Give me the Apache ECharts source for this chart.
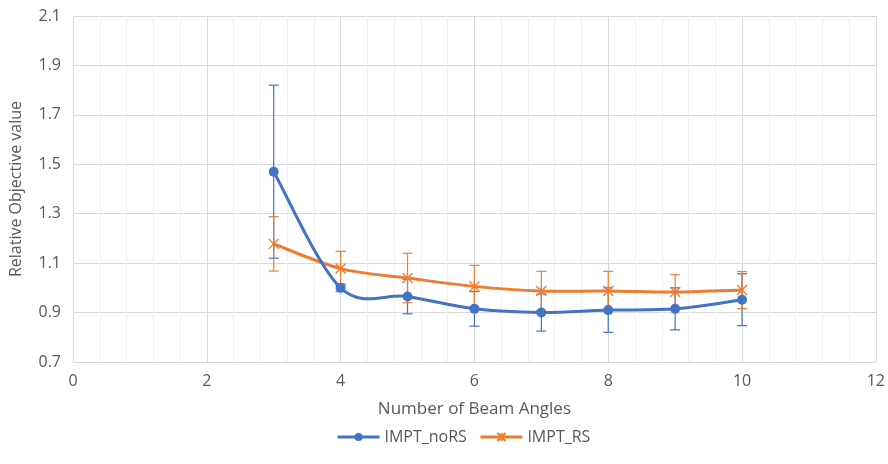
<!DOCTYPE html>
<html>
<head>
<meta charset="utf-8">
<script src="https://cdn.jsdelivr.net/npm/echarts@6/dist/echarts.min.js"></script>
<style>html,body{margin:0;padding:0;background:#fff}#c{width:888px;height:464px}</style>
</head>
<body>
<div id="c"></div>
<script>
const beamAngles = [3, 4, 5, 6, 7, 8, 9, 10];
const noRS = [1.47, 1.00, 0.965, 0.915, 0.90, 0.91, 0.915, 0.952];
const noRSErr = [0.35, 0.015, 0.07, 0.07, 0.075, 0.09, 0.085, 0.105];
const RS = [1.178, 1.078, 1.04, 1.006, 0.987, 0.987, 0.983, 0.991];
const RSErr = [0.11, 0.07, 0.1, 0.085, 0.08, 0.08, 0.07, 0.075];
const yTicks = [0.7, 0.9, 1.1, 1.3, 1.5, 1.7, 1.9, 2.1];

const BLUE = '#4472C4', ORANGE = '#ED7D31';
const FONT = '"Open Sans", sans-serif';

function errSeries(vals, errs, color) {
  return {
    type: 'custom',
    data: beamAngles.map((x, i) => [x, vals[i] - errs[i], vals[i] + errs[i]]),
    encode: { x: 0, y: [1, 2] },
    silent: true,
    z: 1,
    renderItem: function (params, api) {
      const x = api.value(0);
      const lo = api.coord([x, api.value(1)]);
      const hi = api.coord([x, api.value(2)]);
      const w = 5;
      const st = { stroke: color, lineWidth: 1.2 };
      return {
        type: 'group',
        children: [
          { type: 'line', shape: { x1: lo[0], y1: lo[1], x2: hi[0], y2: hi[1] }, style: st },
          { type: 'line', shape: { x1: lo[0] - w, y1: lo[1], x2: lo[0] + w, y2: lo[1] }, style: st },
          { type: 'line', shape: { x1: hi[0] - w, y1: hi[1], x2: hi[0] + w, y2: hi[1] }, style: st }
        ]
      };
    }
  };
}

// Smoothed (Catmull-Rom style, like a spreadsheet "smoothed line") curve, drawn through the axis scales
function curveSeries(vals, color, z) {
  return {
    type: 'custom',
    data: beamAngles.map((x, i) => [x, vals[i]]),
    encode: { x: 0, y: 1 },
    silent: true,
    z: z,
    renderItem: function (params, api) {
      const i = params.dataIndex;
      const n = beamAngles.length;
      if (i >= n - 1) return null;
      const P = k => api.coord([beamAngles[Math.max(0, Math.min(n - 1, k))], vals[Math.max(0, Math.min(n - 1, k))]]);
      const p0 = P(i - 1), p1 = P(i), p2 = P(i + 1), p3 = P(i + 2);
      const t = 1 / 6;
      const c1 = [p1[0] + (p2[0] - p0[0]) * t, p1[1] + (p2[1] - p0[1]) * t];
      const c2 = [p2[0] - (p3[0] - p1[0]) * t, p2[1] - (p3[1] - p1[1]) * t];
      return {
        type: 'bezierCurve',
        shape: { x1: p1[0], y1: p1[1], x2: p2[0], y2: p2[1], cpx1: c1[0], cpy1: c1[1], cpx2: c2[0], cpy2: c2[1] },
        style: { stroke: color, lineWidth: 3, fill: null, lineCap: 'round' }
      };
    }
  };
}

const chart = echarts.init(document.getElementById('c'), null, { renderer: 'canvas' });
chart.setOption({
  animation: false,
  backgroundColor: '#fff',
  textStyle: { fontFamily: FONT },
  grid: { left: 69, right: 12, top: 16, bottom: 102 },
  legend: {
    data: [
      { name: 'IMPT_noRS', lineStyle: { opacity: 1, width: 3, color: BLUE } },
      { name: 'IMPT_RS', lineStyle: { opacity: 1, width: 3, color: ORANGE } }
    ],
    bottom: 14,
    left: 331,
    itemWidth: 42,
    itemHeight: 10,
    itemGap: 12,
    textStyle: { color: '#595959', fontSize: 16, fontFamily: FONT }
  },
  xAxis: {
    type: 'value',
    min: 0, max: 12, interval: 2,
    name: 'Number of Beam Angles',
    nameLocation: 'middle',
    nameGap: 39,
    nameTextStyle: { color: '#595959', fontSize: 17, fontFamily: FONT },
    axisLine: { show: true, lineStyle: { color: '#d9d9d9', width: 1 } },
    axisTick: { show: false },
    axisLabel: { color: '#595959', fontSize: 16, margin: 11, fontFamily: FONT },
    splitLine: { show: true, lineStyle: { color: '#d9d9d9', width: 1 } },
    minorTick: { show: false, splitNumber: 5 },
    minorSplitLine: { show: true, lineStyle: { color: '#efefef', width: 1 } }
  },
  yAxis: {
    type: 'value',
    min: 0.7, max: 2.1, interval: 0.2,
    name: 'Relative Objective value',
    nameLocation: 'middle',
    nameGap: 49,
    nameTextStyle: { color: '#595959', fontSize: 16, fontFamily: FONT },
    axisLine: { show: false },
    axisTick: { show: false },
    axisLabel: {
      color: '#595959', fontSize: 16, margin: 12, fontFamily: FONT,
      formatter: v => { const t = yTicks.find(k => Math.abs(k - v) < 1e-6); return t !== undefined ? t.toFixed(1) : ''; }
    },
    splitLine: { show: true, lineStyle: { color: '#d9d9d9', width: 1 } }
  },
  series: [
    errSeries(noRS, noRSErr, BLUE),
    errSeries(RS, RSErr, ORANGE),
    curveSeries(RS, ORANGE, 2),
    curveSeries(noRS, BLUE, 3),
    {
      name: 'IMPT_noRS',
      type: 'line',
      data: beamAngles.map((x, i) => [x, noRS[i]]),
      symbol: 'circle',
      symbolSize: 10,
      lineStyle: { color: BLUE, width: 3, opacity: 0 },
      itemStyle: { color: BLUE, borderColor: BLUE, borderWidth: 0 },
      z: 4
    },
    {
      name: 'IMPT_RS',
      type: 'line',
      data: beamAngles.map((x, i) => [x, RS[i]]),
      symbol: 'path://M0,0L10,10M10,0L0,10M5,0L5,10',
      symbolSize: [10, 10],
      lineStyle: { color: ORANGE, width: 3, opacity: 0 },
      itemStyle: { color: 'rgba(0,0,0,0)', borderColor: ORANGE, borderWidth: 1.3 },
      z: 4
    }
  ]
});
</script>
</body>
</html>
